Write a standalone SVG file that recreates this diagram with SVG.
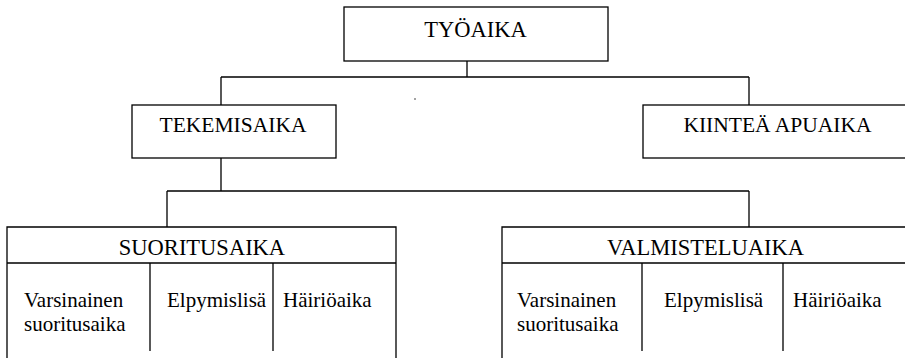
<svg xmlns="http://www.w3.org/2000/svg" width="905" height="358" viewBox="0 0 905 358">
<style>
.box{fill:#fff;stroke:#000;stroke-width:1.3}
.ln{fill:none;stroke:#000;stroke-width:1.3}
.big{font-size:22.5px}
.mid{font-size:21.5px}
.sm{font-size:21px}
</style>
<rect width="905" height="358" fill="#fff"/>
<g id="connectors">
<path class="ln" d="M467 61V77M221 77H749M221 77V105M749 77V105"/>
<path class="ln" d="M221 158V191M167 191H749M167 191V227M749 191V227"/>
<circle cx="415" cy="99" r="0.7" fill="#000"/>
</g>
<g font-family="Liberation Serif, serif" fill="#000">
<g id="tyoaika">
<rect class="box" x="344" y="7" width="264" height="54"/>
<text class="big" x="475.5" y="36.5" text-anchor="middle">TYÖAIKA</text>
</g>
<g id="tekemisaika">
<rect class="box" x="132" y="105" width="204" height="53"/>
<text class="mid" x="233" y="132" text-anchor="middle">TEKEMISAIKA</text>
</g>
<g id="kiintea">
<rect class="box" x="643" y="105" width="270" height="53"/>
<text class="mid" x="777.5" y="132" text-anchor="middle">KIINTEÄ APUAIKA</text>
</g>
<g id="suoritusaika">
<path class="ln" d="M7 360V227H396V360M7 263H396M150 263V351M273 263V351"/>
<text class="big" x="202" y="255" text-anchor="middle">SUORITUSAIKA</text>
<text class="sm" x="24" y="307">Varsinainen</text>
<text class="sm" x="24" y="331">suoritusaika</text>
<text class="sm" x="167" y="307">Elpymislisä</text>
<text class="sm" x="283" y="307">Häiriöaika</text>
</g>
<g id="valmisteluaika">
<path class="ln" d="M502 360V227H910M502 263H910M642 263V351M783 263V351"/>
<text class="big" x="705.5" y="255" text-anchor="middle">VALMISTELUAIKA</text>
<text class="sm" x="517" y="307">Varsinainen</text>
<text class="sm" x="517" y="331">suoritusaika</text>
<text class="sm" x="664" y="307">Elpymislisä</text>
<text class="sm" x="793" y="307">Häiriöaika</text>
</g>
</g>
</svg>
